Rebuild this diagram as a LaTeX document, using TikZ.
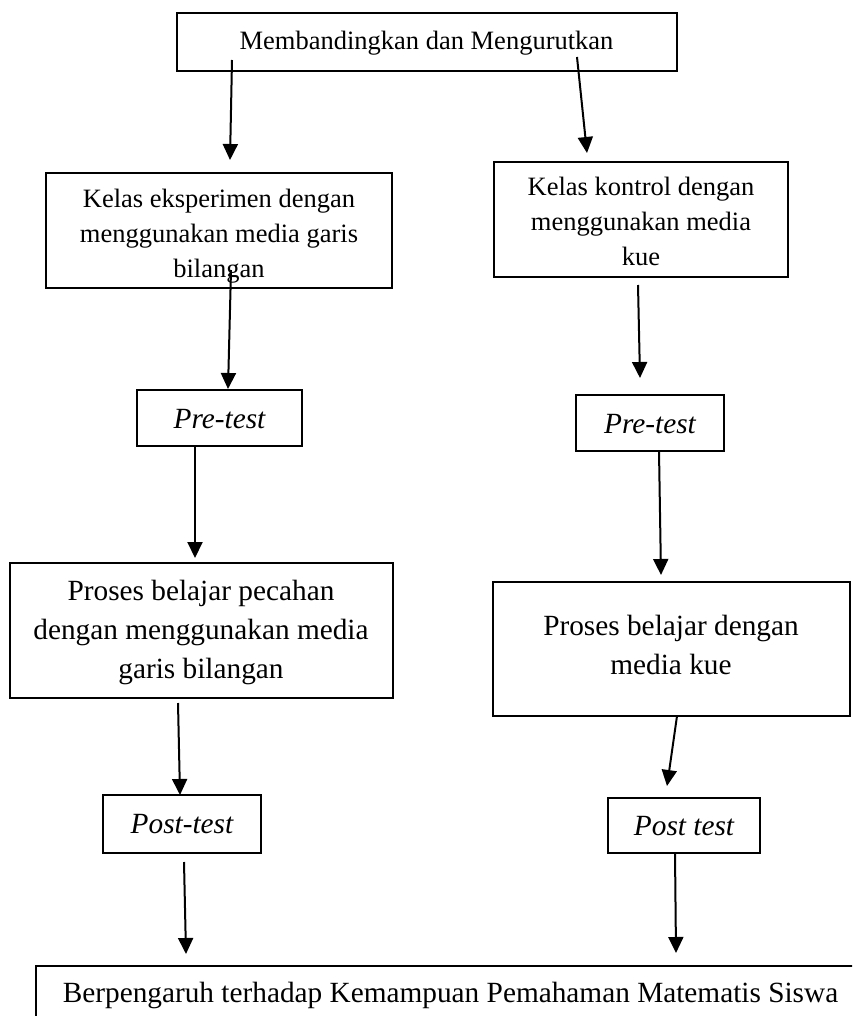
\documentclass[tikz,border=0pt]{standalone}
\usepackage{fontspec}
\setmainfont{Liberation Serif}
\usetikzlibrary{arrows.meta}
\newcommand\myfs{\fontsize{13.25pt}{17.3pt}\selectfont}
\newcommand\myfl{\fontsize{14.65pt}{19.5pt}\selectfont}
\begin{document}
\begin{tikzpicture}[x=0.5pt,y=-0.5pt,
  box/.style={draw, line width=0.8pt, inner sep=0pt, outer sep=0pt},
  txt/.style={inner sep=0pt, outer sep=0pt, anchor=base},
  arr/.style={line width=1pt, -{Triangle[length=8pt,width=7.5pt]}}]
\useasboundingbox (0,0) rectangle (852,1016);
\clip (0,0) rectangle (852,1016);
\fill[white] (0,0) rectangle (852,1016);
% boxes
\node[box, minimum width=250pt, minimum height=29pt] (top) at (427,42) {};
\node[box, minimum width=173pt, minimum height=57.5pt] (kelasE) at (219,230.5) {};
\node[box, minimum width=147pt, minimum height=57.5pt] (kelasK) at (641,219.5) {};
\node[box, minimum width=82.5pt, minimum height=28pt] (preL) at (219.5,418) {};
\node[box, minimum width=74pt, minimum height=28pt] (preR) at (650,423) {};
\node[box, minimum width=191.5pt, minimum height=67.5pt] (prosL) at (201.5,630.5) {};
\node[box, minimum width=178.5pt, minimum height=67pt] (prosR) at (671.5,649) {};
\node[box, minimum width=79pt, minimum height=29pt] (postL) at (182,824) {};
\node[box, minimum width=76pt, minimum height=27.5pt] (postR) at (684,825.5) {};
\node[box, minimum width=432pt, minimum height=47pt] (hasil) at (468,1013) {};
% texts
\node[txt] (ttop) at (426.5,50) {\myfs Membandingkan dan Mengurutkan};
\node[txt] (tkelasE) at (219,208) {\myfs\setlength\tabcolsep{0pt}\begin{tabular}[t]{c}Kelas eksperimen dengan\\ menggunakan media garis\\ bilangan\end{tabular}};
\node[txt] (tkelasK) at (641,196) {\myfs\setlength\tabcolsep{0pt}\begin{tabular}[t]{c}Kelas kontrol dengan\\ menggunakan media\\ kue\end{tabular}};
\node[txt] (tpreL) at (219.5,428) {\myfl\itshape Pre-test};
\node[txt] (tpreR) at (650,433) {\myfl\itshape Pre-test};
\node[txt] (tprosL) at (201,600) {\myfl\setlength\tabcolsep{0pt}\begin{tabular}[t]{c}Proses belajar pecahan\\ dengan menggunakan media\\ garis bilangan\end{tabular}};
\node[txt] (tprosR) at (671,635) {\myfl\setlength\tabcolsep{0pt}\begin{tabular}[t]{c}Proses belajar dengan\\ media kue\end{tabular}};
\node[txt] (tpostL) at (182,833) {\myfl\itshape Post-test};
\node[txt] (tpostR) at (684,835) {\myfl\itshape Post test};
\node[txt] (thasil) at (450.5,1002) {\myfl Berpengaruh terhadap Kemampuan Pemahaman Matematis Siswa};
% connector ends
\coordinate (a1s) at (232,60);  \coordinate (a1e) at (230,160);
\coordinate (a2s) at (577,57);  \coordinate (a2e) at (587,153);
\coordinate (a3s) at (231,270); \coordinate (a3e) at (228,389);
\coordinate (a4s) at (638,285); \coordinate (a4e) at (640,378);
\coordinate (a5s) at (195,445); \coordinate (a5e) at (195,558);
\coordinate (a6s) at (659,451); \coordinate (a6e) at (661,575);
\coordinate (a7s) at (178,703); \coordinate (a7e) at (180,795);
\coordinate (a8s) at (677,716); \coordinate (a8e) at (667,786);
\coordinate (a9s) at (184,862); \coordinate (a9e) at (186,954);
\coordinate (a10s) at (675,853); \coordinate (a10e) at (676,953);
\foreach \i in {1,...,10} \draw[arr] (a\i s) -- (a\i e);
\end{tikzpicture}
\end{document}
